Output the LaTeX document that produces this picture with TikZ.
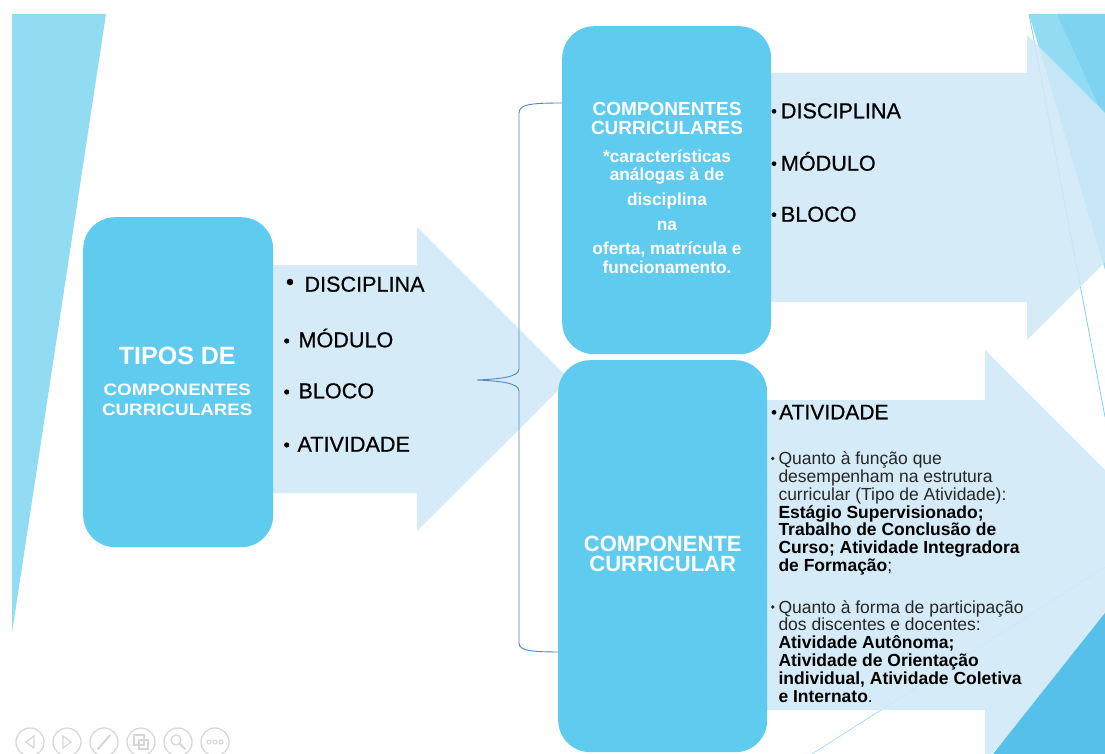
\documentclass[tikz,border=0pt]{standalone}
\usepackage{fontspec}
\setmainfont{Liberation Sans}
\newfontfamily\widesans[FakeStretch=1.14]{Liberation Sans}
\newfontfamily\heavysans[FakeBold=0.6]{Liberation Sans}
\newcommand{\setsz}[1]{\fontsize{#1}{#1}\selectfont}

\definecolor{boxblue}{RGB}{95,203,239}
\definecolor{arrowblue}{RGB}{208,233,247}
\definecolor{decolight}{RGB}{146,220,243}
\definecolor{decodark}{RGB}{125,211,240}
\definecolor{decodeep}{RGB}{85,193,234}
\definecolor{bracecol}{RGB}{79,136,198}
\definecolor{textgray}{RGB}{38,38,38}
\definecolor{uigray}{RGB}{214,214,214}

\tikzset{
  bluebox/.style={fill=boxblue, rounded corners=32pt, inner sep=0pt, anchor=north west},
  boxtext/.style={text=white, inner sep=0pt, anchor=base, font=\bfseries\setsz{#1}},
  bigitem/.style={inner sep=0pt, anchor=base west, font=\heavysans\setsz{#1}},
  smallitem/.style={inner sep=0pt, anchor=base west, text=textgray, font=\setsz{17.5}},
  arrowfill/.style={fill=arrowblue, fill opacity=0.88},
}

\begin{document}
\begin{tikzpicture}[x=1pt, y=-1pt]
	\useasboundingbox (0,0) rectangle (1105,754);
	\clip (0,0) rectangle (1105,754);
	\fill[white] (0,0) rectangle (1105,754);

	% slide decoration
	\fill[decolight] (12,14) -- (106,14) -- (12,633) -- cycle;
	\fill[decolight] (1029,14) -- (1105,14) -- (1105,270) -- cycle;
	\fill[decodark] (1057,14) -- (1105,14) -- (1105,120) -- cycle;
	\draw[decodark, line width=0.8pt] (1029,14) -- (1105,417);
	\draw[decolight, line width=0.6pt] (812,754) -- (1105,567);

	% arrows
	\fill[arrowfill] (250,265) -- (417,265) -- (417,227) -- (569.5,379) -- (417,531) -- (417,493) -- (250,493) -- cycle;
	\fill[arrowfill] (740,73) -- (1027,73) -- (1027,35) -- (1179.5,187.5) -- (1027,340) -- (1027,302) -- (740,302) -- cycle;
	\fill[arrowfill] (740,400) -- (985,400) -- (985,350) -- (1190,555) -- (985,760) -- (985,710) -- (740,710) -- cycle;
	\fill[decodeep] (993,754) -- (1105,613) -- (1105,754) -- cycle;

	% brace
	\coordinate (braceTop) at (563,103);
	\coordinate (braceTip) at (477,380);
	\coordinate (braceBot) at (563,652);
	\draw[bracecol, line width=0.9pt] (braceTop) .. controls (532,103) and (519,104) .. (519,113) -- (519,369)
		.. controls (519,377) and (500,379) .. (braceTip) .. controls (500,381) and (519,383) .. (519,391)
		-- (519,643) .. controls (519,651) and (532,652) .. (braceBot);

	% boxes
	\node[bluebox, minimum width=190pt, minimum height=330pt] (tipos) at (83,217) {};
	\node[bluebox, minimum width=209pt, minimum height=328pt] (compA) at (562,26) {};
	\node[bluebox, minimum width=209pt, minimum height=392pt] (compB) at (558,360) {};

	\node[boxtext=25] (tiposA) at (177.3,364) {TIPOS DE};
	\node[boxtext=16.5, font=\widesans\bfseries\setsz{16.5}] (tiposB) at (177.3,395) {COMPONENTES};
	\node[boxtext=16.5, font=\widesans\bfseries\setsz{16.5}] (tiposC) at (177.3,415) {CURRICULARES};

	\node[boxtext=19] (compAa) at (667,116) {COMPONENTES};
	\node[boxtext=19] (compAb) at (667,135) {CURRICULARES};
	\node[boxtext=17.3] (compAc) at (667,162.7) {*características};
	\node[boxtext=17.3] (compAd) at (667,180.7) {análogas à de};
	\node[boxtext=17.3] (compAe) at (667,205) {disciplina};
	\node[boxtext=17.3] (compAf) at (667,230) {na};
	\node[boxtext=17.3] (compAg) at (667,254) {oferta, matrícula e};
	\node[boxtext=17.3] (compAh) at (667,273) {funcionamento.};

	\node[boxtext=22] (compBa) at (662.7,551) {COMPONENTE};
	\node[boxtext=22] (compBb) at (662.7,571.7) {CURRICULAR};

	% left arrow items
	\fill (290,282) circle (3.3pt);
	\foreach \y in {341,392,445}
		\fill (286.7,\y) circle (2.6pt);
	\node[bigitem=21.6] (lDisc) at (304.3,291.7) {DISCIPLINA};
	\node[bigitem=21.6] (lMod) at (298.3,347.3) {MÓDULO};
	\node[bigitem=21.6] (lBloc) at (298.3,398.3) {BLOCO};
	\node[bigitem=21.6] (lAtiv) at (297.3,451.7) {ATIVIDADE};

	% top right items
	\foreach \y in {111.3,163.7,214.7}
		\fill (774,\y) circle (2.4pt);
	\node[bigitem=21.6] (rDisc) at (780.7,118.3) {DISCIPLINA};
	\node[bigitem=21.6] (rMod) at (780.7,170.7) {MÓDULO};
	\node[bigitem=21.6] (rBloc) at (780.7,221.7) {BLOCO};

	% bottom right items
	\fill (774,412.3) circle (2.4pt);
	\node[bigitem=21] (rAtiv) at (779,419.3) {ATIVIDADE};
	\fill[textgray] (772.7,458.5) circle (1.8pt);
	\fill[textgray] (772.7,607) circle (1.8pt);
	\node[smallitem] (fA) at (778.3,464.6) {Quanto à função que};
	\node[smallitem] (fB) at (778.3,482.4) {desempenham na estrutura};
	\node[smallitem] (fC) at (778.3,500.2) {curricular (Tipo de Atividade):};
	\node[smallitem, text=black] (fD) at (778.3,518) {\bfseries Estágio Supervisionado;};
	\node[smallitem, text=black] (fE) at (778.3,535.8) {\bfseries Trabalho de Conclusão de};
	\node[smallitem, text=black] (fF) at (778.3,553.6) {\bfseries Curso; Atividade Integradora};
	\node[smallitem, text=black] (fG) at (778.3,571.4) {\textbf{de Formação};};
	\node[smallitem] (pA) at (778.3,613) {Quanto à forma de participação};
	\node[smallitem] (pB) at (778.3,630.8) {dos discentes e docentes:};
	\node[smallitem, text=black] (pC) at (778.3,648.6) {\bfseries Atividade Autônoma;};
	\node[smallitem, text=black] (pD) at (778.3,666.4) {\bfseries Atividade de Orientação};
	\node[smallitem, text=black] (pE) at (778.3,684.2) {\bfseries individual, Atividade Coletiva};
	\node[smallitem, text=black] (pF) at (778.3,702) {\textbf{e Internato}.};

	% player buttons
	\foreach \i in {0,...,5}
		\draw[uigray, line width=1.2pt] (30+37*\i,742) circle (14pt);
	\draw[uigray, line width=1.2pt] (34,736) -- (26,742) -- (34,748) -- cycle;
	\draw[uigray, line width=1.2pt] (63,736) -- (71,742) -- (63,748) -- cycle;
	\draw[uigray, line width=2pt, line cap=round] (98,749) -- (110,735);
	\draw[uigray, line width=1.2pt] (134,735) rectangle (144,745);
	\draw[uigray, line width=1.2pt] (139,740) rectangle (148,749);
	\draw[uigray, line width=1.2pt] (176,740) circle (5pt);
	\draw[uigray, line width=2pt, line cap=round] (180,744) -- (185,749);
	\foreach \x in {209,215,221}
		\draw[uigray, line width=1pt] (\x,742) circle (2pt);

\end{tikzpicture}
\end{document}
